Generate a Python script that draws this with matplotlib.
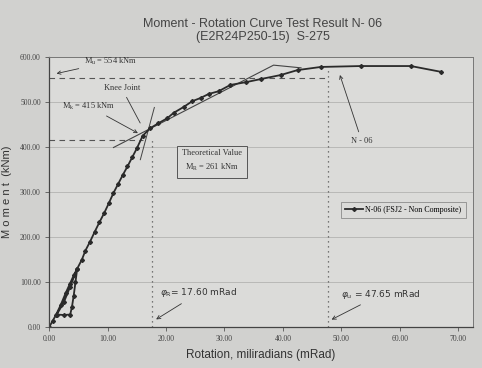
import matplotlib
matplotlib.use("Agg")
import matplotlib.pyplot as plt
import numpy as np

# test curve N-06 (rotation in mRad, moment in kNm)
rotation = [0.0, 0.6, 1.2, 2.0, 2.8, 3.5, 4.2, 4.8, 4.5, 4.2, 3.9, 3.6, 2.5, 1.3,
            2.5, 3.6, 4.8, 5.6, 6.2, 7.0, 7.8, 8.6, 9.4, 10.2, 11.0, 11.8, 12.6,
            13.4, 14.2, 15.0, 16.0, 17.3, 18.7, 20.2, 21.3, 23.0, 24.5, 25.9,
            27.3, 29.0, 31.0, 33.6, 36.2, 39.6, 42.5, 46.5, 53.3,
            61.9, 67.1]
moment = [0, 14, 28, 50, 75, 95, 115, 130, 100, 70, 45, 28, 27, 28,
          55, 90, 130, 150, 170, 190, 212, 233, 253, 275, 298, 318, 338,
          357, 377, 397, 425, 442, 453, 464, 476, 489, 502, 509,
          518, 524, 538, 544, 551, 560, 571, 578, 580,
          580, 567]

# idealised tangent lines at the knee
post_x = [11.0, 38.4, 43.1]
post_m = [399, 582, 576]
init_x = [15.6, 18.0]
init_m = [372, 488]

m_u = 554
m_k = 415
phi_r = 17.60
phi_u = 47.65

plt.rcParams['font.family'] = ['Liberation Serif', 'DejaVu Serif']

fig = plt.figure(figsize=(4.82, 3.68), dpi=100, facecolor='#d1d1cf')
ax = fig.add_axes([0.102, 0.111, 0.879, 0.734])
ax.set_facecolor('#dbdbd9')

ax.set_xlim(0, 72.5)
ax.set_ylim(0, 600)
ax.set_xticks(np.arange(0, 71, 10))
ax.set_yticks(np.arange(0, 601, 100))
ax.set_xticklabels([f"{v:.2f}" for v in np.arange(0, 71, 10)], fontsize=5.5, color='#444')
ax.set_yticklabels([f"{v:.2f}" for v in np.arange(0, 601, 100)], fontsize=5.5, color='#444')
ax.tick_params(length=3, width=0.6, color='#555', pad=3)
ax.grid(axis='y', color='#b8b8b6', lw=0.7)
for s in ['left', 'bottom']:
    ax.spines[s].set_color('#444')
    ax.spines[s].set_linewidth(0.9)
for s in ['top', 'right']:
    ax.spines[s].set_color('#777')
    ax.spines[s].set_linewidth(0.7)

# reference lines
ax.plot([0, phi_u], [m_u, m_u], ls=(0, (5, 4)), color='#555', lw=0.8)
ax.plot([0, 16.0], [m_k, m_k], ls=(0, (5, 4)), color='#555', lw=0.8)
ax.plot([phi_r, phi_r], [0, m_k], ls=(0, (1, 3)), color='#555', lw=0.9)
ax.plot([phi_u, phi_u], [0, 578], ls=(0, (1, 3)), color='#555', lw=0.9)

ax.plot(post_x, post_m, color='#444', lw=0.8)
ax.plot(init_x, init_m, color='#444', lw=0.7)

ax.plot(rotation, moment, color='#2a2a2a', lw=1.3, marker='D', ms=2.0,
        label='N-06 (FSJ2 - Non Composite)')

arrow = dict(arrowstyle='->', color='#333', lw=0.6)
txt = dict(fontsize=6, color='#333')

ax.annotate(r'M$_\mathregular{u}$ = 554 kNm', xy=(0.8, 562), xytext=(6.0, 590),
            arrowprops=arrow, va='center', **txt)
ax.annotate(r'M$_\mathregular{k}$ = 415 kNm', xy=(15.6, 428), xytext=(2.2, 491),
            arrowprops=arrow, va='center', **txt)
ax.annotate('Knee Joint', xy=(15.8, 448), xytext=(12.4, 531),
            arrowprops=dict(arrowstyle='-', color='#333', lw=0.6),
            ha='center', va='center', **txt)
ax.annotate('N - 06', xy=(49.6, 566), xytext=(53.5, 413),
            arrowprops=arrow, ha='center', va='center', **txt)

ax.text(27.8, 369, 'Theoretical Value\n' + r'M$_\mathregular{R}$ = 261 kNm',
        ha='center', va='center', fontsize=6, color='#333', linespacing=1.5,
        bbox=dict(boxstyle='square,pad=0.6', fc='#dbdbd9', ec='#555', lw=0.7))

ax.annotate(r'$\varphi_\mathregular{R}$= 17.60 mRad', xy=(17.9, 14), xytext=(19.0, 76),
            arrowprops=arrow, va='center', family=['DejaVu Sans'], fontsize=6.5, color='#333')
ax.annotate(r'$\varphi_\mathregular{u}$ = 47.65 mRad', xy=(47.9, 14), xytext=(50.0, 73),
            arrowprops=arrow, va='center', family=['DejaVu Sans'], fontsize=6.5, color='#333')

leg = ax.legend(loc='center', bbox_to_anchor=(0.836, 0.433), fontsize=5.8,
                frameon=True, fancybox=False, handlelength=2.2,
                borderpad=0.5, handletextpad=0.3)
leg.get_frame().set_facecolor('#dbdbd9')
leg.get_frame().set_edgecolor('#777')
leg.get_frame().set_linewidth(0.6)

fig.text(0.545, 0.918, 'Moment - Rotation Curve Test Result N- 06\n(E2R24P250-15)  S-275',
         ha='center', va='center', fontsize=9, color='#444',
         family=['Liberation Sans'], linespacing=1.15)
ax.set_xlabel('Rotation, miliradians (mRad)', fontsize=8.5, color='#333',
              family=['Liberation Sans'], labelpad=4)
ax.set_ylabel('M o m e n t  (kNm)', fontsize=8, color='#333',
              family=['Liberation Sans'], labelpad=6)

fig.savefig('out.png', dpi=100, facecolor=fig.get_facecolor())
